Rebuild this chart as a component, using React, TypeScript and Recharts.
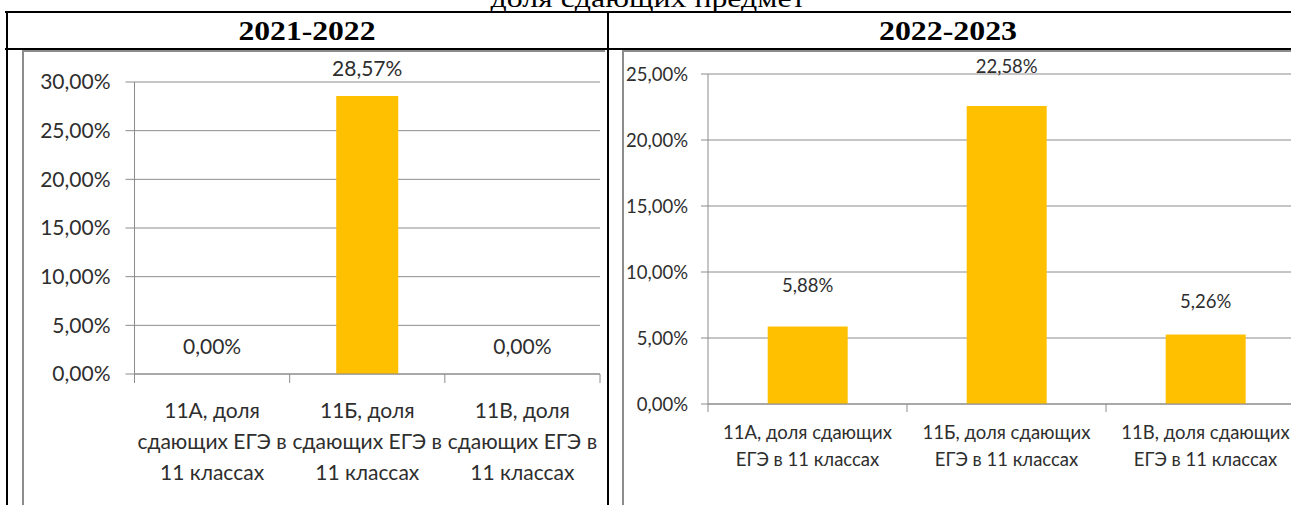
import React from 'react'
import { BarChart, Bar, XAxis, YAxis, CartesianGrid, LabelList } from 'recharts'

const pageTitle = 'доля сдающих предмет'
const years = ['2021-2022', '2022-2023']
const classes = ['11А', '11Б', '11В']

// доля сдающих, %
const share2122 = [0, 28.57, 0]
const share2223 = [5.88, 22.58, 5.26]

const yTicks2122 = [0, 5, 10, 15, 20, 25, 30]
const yTicks2223 = [0, 5, 10, 15, 20, 25]

const tickLines2122 = [
  ['11А, доля', 'сдающих ЕГЭ в', '11 классах'],
  ['11Б, доля', 'сдающих ЕГЭ в', '11 классах'],
  ['11В, доля', 'сдающих ЕГЭ в', '11 классах'],
]
const tickLines2223 = [
  ['11А, доля сдающих', 'ЕГЭ в 11 классах'],
  ['11Б, доля сдающих', 'ЕГЭ в 11 классах'],
  ['11В, доля сдающих', 'ЕГЭ в 11 классах'],
]

const GRID = '#8c8c8c'
const TEXT = '#2e2e2e'
const BAR = '#FFC000'
const FONT = "Lato, 'Open Sans', sans-serif"
const SERIF = "'Liberation Serif', 'Times New Roman', serif"

const pct = (v: number) => v.toFixed(2).replace('.', ',') + '%'

interface ChartProps {
  values: number[]
  yTicks: number[]
  tickLines: string[][]
  width: number
  height: number
  margin: { top: number; right: number; left: number; bottom: number }
  yWidth: number
  xHeight: number
  fontSize: number
  yTickSize: number
  yTickMargin: number
  xTickSize: number
  lineOffsets: number[]
  labelLift: number[]
}

function ShareChart(p: ChartProps) {
  const data = classes.map((c, i) => ({ name: c, value: p.values[i] }))
  const plotW = p.width - p.margin.left - p.margin.right - p.yWidth
  const band = plotW / data.length

  const valueText = (x: number, y: number, v: number, key?: string) => (
    <text
      key={key}
      x={x}
      y={y}
      dy="0.35em"
      textAnchor="middle"
      fill={TEXT}
      fontSize={p.fontSize}
      fontFamily={FONT}
    >
      {pct(v)}
    </text>
  )

  const renderTick = (props: any) => {
    const { x, y, index } = props
    const last = index === data.length - 1
    const v = data[index].value
    return (
      <g>
        <line x1={x - band / 2} x2={x - band / 2} y1={y} y2={y + p.xTickSize} stroke={GRID} />
        {last && <line x1={x + band / 2} x2={x + band / 2} y1={y} y2={y + p.xTickSize} stroke={GRID} />}
        {/* нулевые столбцы не рисуются, подпись ставим от оси */}
        {v === 0 && valueText(x, y - p.labelLift[index], v)}
        {p.tickLines[index].map((t, k) => (
          <text
            key={k}
            x={x}
            y={y + p.lineOffsets[k]}
            dy="0.35em"
            textAnchor="middle"
            fill={TEXT}
            fontSize={p.fontSize}
            fontFamily={FONT}
          >
            {t}
          </text>
        ))}
      </g>
    )
  }

  const renderLabel = (props: any) => {
    const { x, y, width, value, index } = props
    if (Number(value) === 0) return null
    return valueText(x + width / 2, y - p.labelLift[index], Number(value))
  }

  return (
    <BarChart width={p.width} height={p.height} data={data} margin={p.margin} barCategoryGap="30%">
      <CartesianGrid vertical={false} stroke={GRID} />
      <XAxis
        dataKey="name"
        interval={0}
        height={p.xHeight}
        tickSize={0}
        tickMargin={0}
        tickLine={false}
        axisLine={{ stroke: GRID }}
        tick={renderTick}
      />
      <YAxis
        domain={[p.yTicks[0], p.yTicks[p.yTicks.length - 1]]}
        ticks={p.yTicks}
        width={p.yWidth}
        tickSize={p.yTickSize}
        tickMargin={p.yTickMargin}
        tickLine={{ stroke: GRID }}
        axisLine={{ stroke: GRID }}
        tickFormatter={pct}
        tick={{ fill: TEXT, fontSize: p.fontSize, fontFamily: FONT }}
      />
      <Bar dataKey="value" fill={BAR} isAnimationActive={false}>
        <LabelList dataKey="value" content={renderLabel} />
      </Bar>
    </BarChart>
  )
}

export default function App() {
  return (
    <div
      style={{
        position: 'absolute',
        left: 0,
        top: 0,
        width: 1291,
        height: 505,
        overflow: 'hidden',
        background: '#fff',
      }}
    >
      <svg width={1291} height={505} style={{ position: 'absolute', left: 0, top: 0 }}>
        <text
          x={648}
          y={7}
          textAnchor="middle"
          fontFamily={SERIF}
          fontSize={26}
          textLength={315}
          lengthAdjust="spacingAndGlyphs"
          fill="#000"
        >
          {pageTitle}
        </text>
        {/* таблица */}
        <rect x={5} y={11} width={1290} height={2} fill="#000" />
        <rect x={5} y={48} width={1290} height={2} fill="#000" />
        <rect x={6} y={11} width={2} height={500} fill="#000" />
        <rect x={607} y={11} width={2} height={500} fill="#000" />
        <text
          x={307}
          y={40}
          textAnchor="middle"
          fontFamily={SERIF}
          fontWeight="bold"
          fontSize={27}
          textLength={137}
          lengthAdjust="spacingAndGlyphs"
          fill="#000"
        >
          {years[0]}
        </text>
        <text
          x={948}
          y={40}
          textAnchor="middle"
          fontFamily={SERIF}
          fontWeight="bold"
          fontSize={27}
          textLength={138}
          lengthAdjust="spacingAndGlyphs"
          fill="#000"
        >
          {years[1]}
        </text>
        {/* рамки диаграмм */}
        <rect x={22} y={50} width={583} height={2} fill={GRID} />
        <rect x={22} y={50} width={2} height={460} fill={GRID} />
        <rect x={622} y={50} width={680} height={2} fill={GRID} />
        <rect x={622} y={50} width={2} height={460} fill={GRID} />
      </svg>

      <div style={{ position: 'absolute', left: 24, top: 52 }}>
        <ShareChart
          values={share2122}
          yTicks={yTicks2122}
          tickLines={tickLines2122}
          width={580}
          height={453}
          margin={{ top: 30, right: 4, left: 0, bottom: 0 }}
          yWidth={110.5}
          xHeight={131}
          fontSize={21}
          yTickSize={9}
          yTickMargin={15}
          xTickSize={9}
          lineOffsets={[37, 68, 99]}
          labelLift={[27, 21, 27]}
        />
      </div>

      <div style={{ position: 'absolute', left: 624, top: 52 }}>
        <ShareChart
          values={share2223}
          yTicks={yTicks2223}
          tickLines={tickLines2223}
          width={690}
          height={453}
          margin={{ top: 22, right: 9, left: 0, bottom: 0 }}
          yWidth={84}
          xHeight={101}
          fontSize={18.5}
          yTickSize={7}
          yTickMargin={13}
          xTickSize={8}
          lineOffsets={[29, 56]}
          labelLift={[41, 39, 33]}
        />
      </div>
    </div>
  )
}
